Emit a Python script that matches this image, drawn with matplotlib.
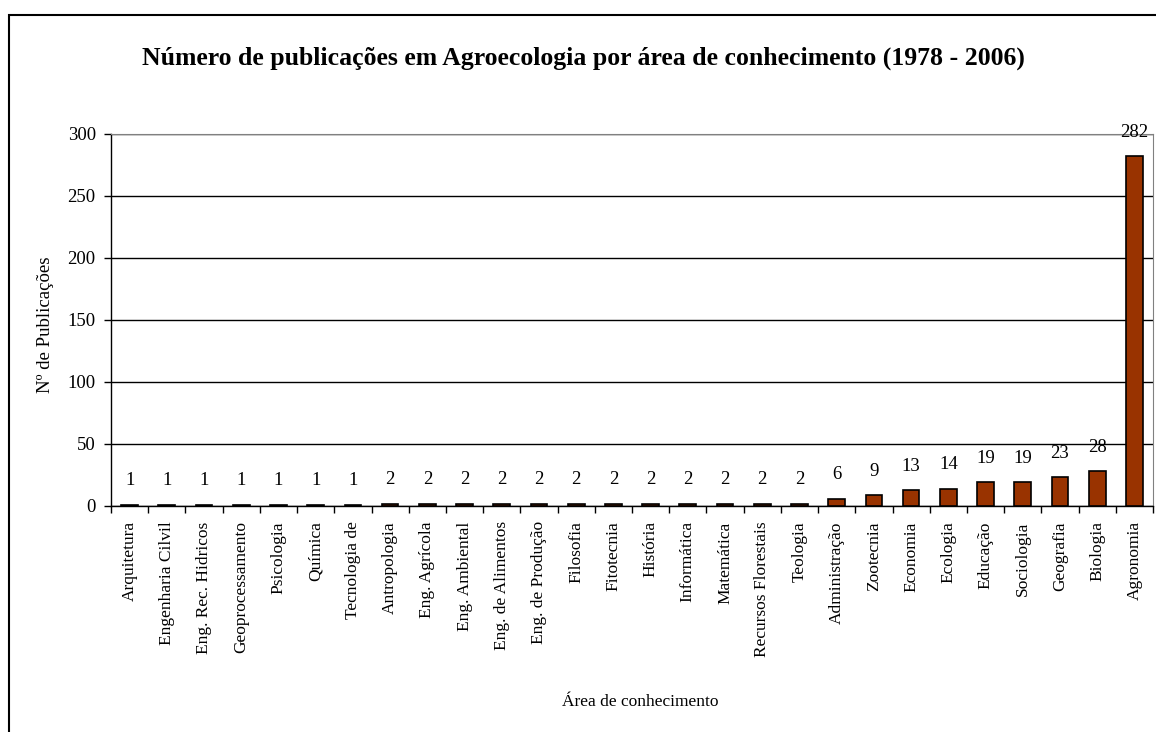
import matplotlib
matplotlib.use("Agg")
import matplotlib.pyplot as plt
from matplotlib.patches import Rectangle
import numpy as np

categories = ["Arquitetura", "Engenharia Cilvil", "Eng. Rec. Hidricos", "Geoprocessamento",
              "Psicologia", "Química", "Tecnologia de", "Antropologia", "Eng. Agrícola",
              "Eng. Ambiental", "Eng. de Alimentos", "Eng. de Produção", "Filosofia",
              "Fitotecnia", "História", "Informática", "Matemática", "Recursos Florestais",
              "Teologia", "Administração", "Zootecnia", "Economia", "Ecologia", "Educação",
              "Sociologia", "Geografia", "Biologia", "Agronomia"]
values = [1, 1, 1, 1, 1, 1, 1, 2, 2, 2, 2, 2, 2, 2, 2, 2, 2, 2, 2, 6, 9, 13, 14, 19, 19, 23, 28, 282]
yticks = [0, 50, 100, 150, 200, 250, 300]

plt.rcParams['font.family'] = ['Liberation Serif', 'DejaVu Serif']

W, H = 1156, 732
fig = plt.figure(figsize=(W / 100, H / 100), dpi=100)
ax = fig.add_axes([111 / W, 1 - 506 / H, (1153 - 111) / W, (506 - 134) / H])

x = np.arange(len(categories))
ax.bar(x, values, width=0.45, color='#993300', edgecolor='black', linewidth=1.2, zorder=3)

for xi, v in zip(x, values):
    ax.annotate(str(v), (xi, v), xytext=(0, 11), textcoords='offset points',
                ha='center', va='bottom', fontsize=13.5)

ax.set_xlim(-0.5, len(categories) - 0.5)
ax.set_ylim(0, 300)
ax.set_yticks(yticks)
ax.set_yticklabels([str(t) for t in yticks], fontsize=13.5)
ax.yaxis.grid(True, color='black', linewidth=1)
ax.set_axisbelow(True)

ax.set_xticks(x)
ax.set_xticklabels(categories, rotation=90, fontsize=12.5, va='top')
ax.tick_params(axis='x', which='major', length=0, pad=11)
ax.set_xticks(np.arange(len(categories) + 1) - 0.5, minor=True)
ax.tick_params(axis='x', which='minor', length=5, direction='out', width=1)
ax.tick_params(axis='y', length=5, direction='out', width=1, pad=6)

ax.spines['top'].set_color('#808080')
ax.spines['right'].set_color('#808080')
ax.spines['left'].set_linewidth(1)
ax.spines['bottom'].set_linewidth(1)

fig.text(45 / W, 1 - 325 / H, 'Nº de Publicações', rotation=90, ha='center', va='center', fontsize=13.5)
fig.text(640 / W, 1 - 702 / H, 'Área de conhecimento', ha='center', va='center', fontsize=12.5)

fig.text(583 / W, 1 - 58 / H,
         'Número de publicações em Agroecologia por área de conhecimento (1978 - 2006)',
         ha='center', va='center', fontsize=18.5, fontweight='bold')

fig.patches.append(Rectangle((9 / W, -0.1), 1.2, 1 - 15 / H + 0.1, transform=fig.transFigure,
                             fill=False, edgecolor='black', linewidth=1.5))

fig.savefig('out.png', dpi=100)
